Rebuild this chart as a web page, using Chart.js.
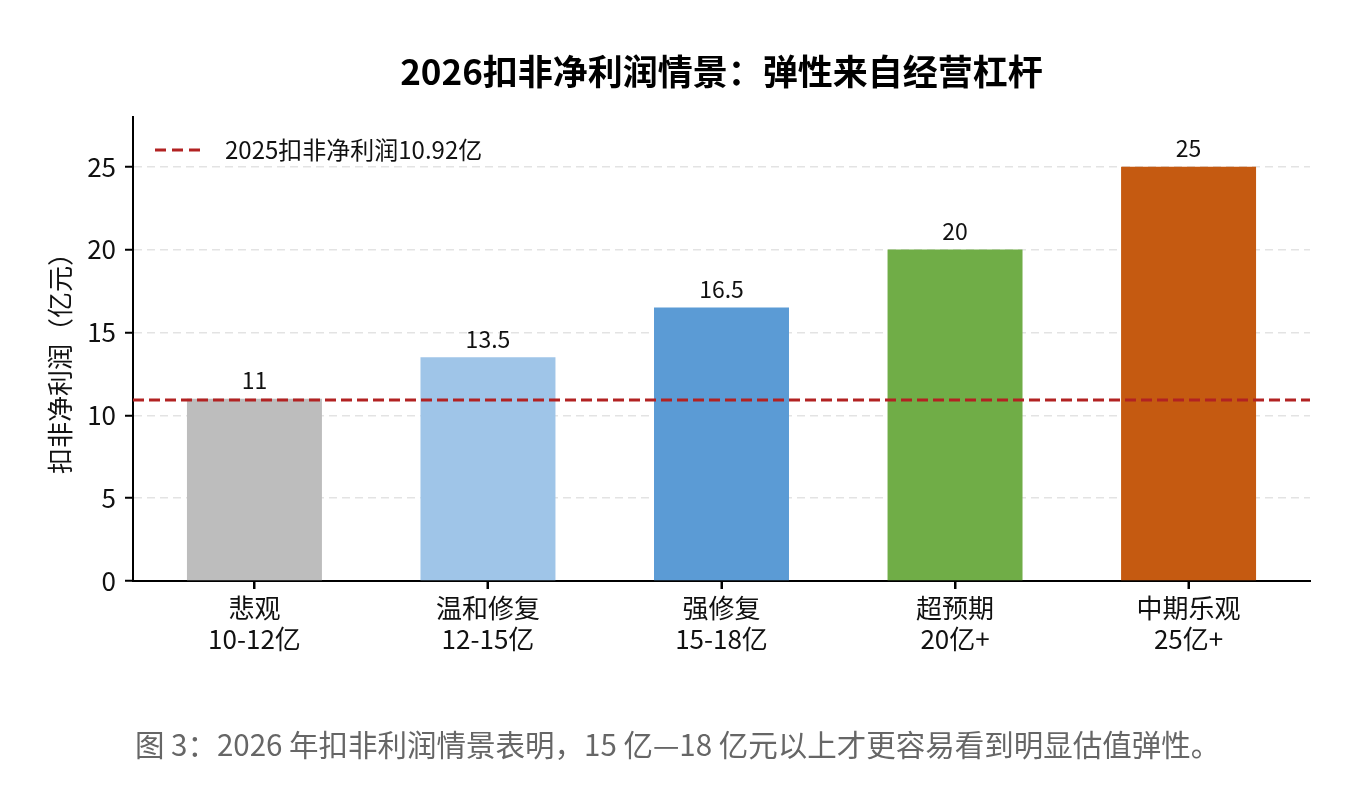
<!DOCTYPE html>
<html>
<head>
<meta charset="utf-8">
<script src="https://cdn.jsdelivr.net/npm/chart.js@4.4.1/dist/chart.umd.min.js"></script>
<style>
html,body{margin:0;padding:0;background:#fff;}
#c{display:block;}
</style>
</head>
<body>
<canvas id="c" width="1370" height="786"></canvas>
<script>
const categories = [['悲观','10-12亿'], ['温和修复','12-15亿'], ['强修复','15-18亿'], ['超预期','20亿+'], ['中期乐观','25亿+']];
const profitValues = [11, 13.5, 16.5, 20, 25];
const valueLabels = ['11', '13.5', '16.5', '20', '25'];
const barColors = ['#bdbdbd', '#9fc5e8', '#5b9bd5', '#70ad47', '#c55a11'];
const baselineValue = 10.92;
const baselineLabel = '2025扣非净利润10.92亿';
const yTicks = [0, 5, 10, 15, 20, 25];
const titleText = '2026扣非净利润情景：弹性来自经营杠杆';
const yTitleText = '扣非净利润（亿元）';
const captionText = '图 3：2026 年扣非利润情景表明，15 亿—18 亿元以上才更容易看到明显估值弹性。';

const FONT = '"Noto Sans CJK SC", "Noto Sans", sans-serif';

const decor = {
  id: 'decor',
  afterDatasetsDraw(chart) {
    const {ctx, chartArea, scales} = chart;
    const y = scales.y;
    const x = scales.x;
    const yb = y.getPixelForValue(baselineValue);
    ctx.save();
    // x tick marks at category centres
    ctx.strokeStyle = '#000';
    ctx.lineWidth = 2;
    categories.forEach((c, i) => {
      const px = Math.round(x.getPixelForValue(i));
      ctx.beginPath();
      ctx.moveTo(px, chartArea.bottom);
      ctx.lineTo(px, chartArea.bottom + 8);
      ctx.stroke();
    });
    // baseline
    ctx.strokeStyle = '#b22222';
    ctx.lineWidth = 3;
    ctx.setLineDash([11, 5]);
    ctx.beginPath();
    ctx.moveTo(chartArea.left, yb);
    ctx.lineTo(chartArea.right, yb);
    ctx.stroke();
    // data labels
    ctx.setLineDash([]);
    ctx.fillStyle = '#111';
    ctx.font = '23px ' + FONT;
    ctx.textAlign = 'center';
    ctx.textBaseline = 'bottom';
    const meta = chart.getDatasetMeta(0);
    meta.data.forEach((bar, i) => {
      ctx.fillText(valueLabels[i], bar.x, bar.y - 7);
    });
    // legend
    const ly = chartArea.top + 33;
    ctx.strokeStyle = '#b22222';
    ctx.lineWidth = 3;
    ctx.setLineDash([11, 6]);
    ctx.beginPath();
    ctx.moveTo(chartArea.left + 22, ly);
    ctx.lineTo(chartArea.left + 70, ly);
    ctx.stroke();
    ctx.setLineDash([]);
    ctx.fillStyle = '#111';
    ctx.font = '24px ' + FONT;
    ctx.textAlign = 'left';
    ctx.textBaseline = 'middle';
    ctx.fillText(baselineLabel, chartArea.left + 92, ly);
    ctx.restore();
  },
  afterDraw(chart) {
    const {ctx, chartArea} = chart;
    ctx.save();
    // title
    ctx.fillStyle = '#000';
    ctx.font = 'bold 35px ' + FONT;
    ctx.textAlign = 'center';
    ctx.textBaseline = 'middle';
    ctx.fillText(titleText, (chartArea.left + chartArea.right) / 2, 72);
    // y title
    ctx.save();
    ctx.translate(60, (chartArea.top + chartArea.bottom) / 2 + 8);
    ctx.rotate(-Math.PI / 2);
    ctx.font = '26px ' + FONT;
    ctx.fillStyle = '#111';
    ctx.fillText(yTitleText, 0, 0);
    ctx.restore();
    // caption
    ctx.fillStyle = '#666';
    ctx.font = '29.5px ' + FONT;
    ctx.textAlign = 'left';
    ctx.fillText(captionText, 135, 745);
    ctx.restore();
  }
};

new Chart(document.getElementById('c'), {
  type: 'bar',
  data: {
    datasets: [{
      data: profitValues.map((v, i) => ({ x: i, y: v })),
      backgroundColor: barColors,
      borderWidth: 0,
      barPercentage: 0.578,
      categoryPercentage: 1
    }]
  },
  options: {
    responsive: false,
    devicePixelRatio: 1,
    animation: false,
    layout: { padding: { left: 0, right: 60, top: 117, bottom: 0 } },
    plugins: { legend: { display: false }, tooltip: { enabled: false } },
    scales: {
      x: {
        type: 'linear',
        min: -0.52, max: 4.52,
        offset: false,
        afterFit: s => { s.height = 205; },
        afterBuildTicks: s => { s.ticks = categories.map((c, i) => ({ value: i })); },
        grid: { offset: false, drawOnChartArea: false, drawTicks: true, tickLength: 8, tickColor: '#000', tickWidth: 2 },
        border: { color: '#000', width: 2 },
        ticks: {
          color: '#111', font: { family: FONT, size: 26, lineHeight: 1.22 }, padding: 3, maxRotation: 0,
          callback: v => categories[v]
        }
      },
      y: {
        min: 0, max: 28,
        afterFit: s => { s.width = 133; },
        afterBuildTicks: s => { s.ticks = yTicks.map(v => ({ value: v })); },
        grid: {
          color: ctx => (ctx.tick && ctx.tick.value === 0) ? 'rgba(0,0,0,0)' : 'rgba(0,0,0,0.11)',
          lineWidth: 1.5,
          drawTicks: true, tickLength: 8, tickColor: '#000', tickWidth: 2, tickBorderDash: []
        },
        border: { color: '#000', width: 2, dash: [8, 5] },
        ticks: { color: '#111', font: { family: FONT, size: 26 }, padding: 9 }
      }
    }
  },
  plugins: [decor]
});
</script>
</body>
</html>
